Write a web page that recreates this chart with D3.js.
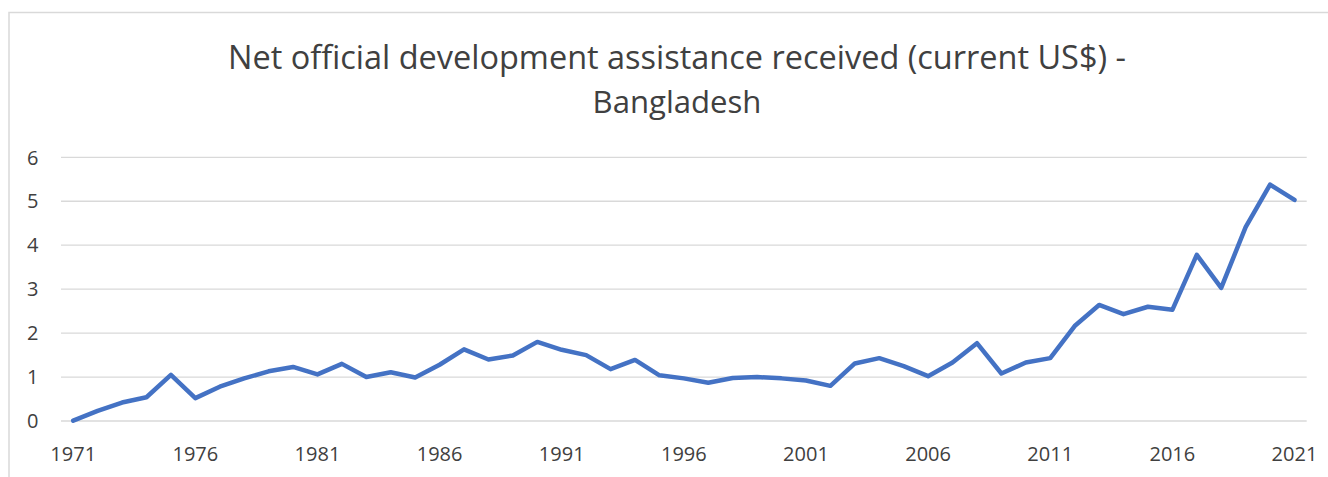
<!DOCTYPE html>
<html>
<head>
<meta charset="utf-8">
<script src="https://cdn.jsdelivr.net/npm/d3@7"></script>
<style>
  html, body { margin: 0; padding: 0; background: #fff; }
  svg { display: block; }
  text { font-family: "Open Sans", "Noto Sans", sans-serif; }
</style>
</head>
<body>
<svg id="chart" width="1328" height="477"></svg>
<script>
const titleLines = ["Net official development assistance received (current US$) -", "Bangladesh"];
const years = [
  1971,1972,1973,1974,1975,1976,1977,1978,1979,1980,
  1981,1982,1983,1984,1985,1986,1987,1988,1989,1990,
  1991,1992,1993,1994,1995,1996,1997,1998,1999,2000,
  2001,2002,2003,2004,2005,2006,2007,2008,2009,2010,
  2011,2012,2013,2014,2015,2016,2017,2018,2019,2020,2021
];
const values = [
  0.01,0.23,0.42,0.54,1.05,0.52,0.78,0.97,1.13,1.23,
  1.06,1.30,1.00,1.11,0.99,1.28,1.63,1.40,1.49,1.80,
  1.62,1.50,1.18,1.39,1.04,0.97,0.87,0.98,1.00,0.97,
  0.92,0.80,1.31,1.43,1.25,1.02,1.33,1.77,1.08,1.33,
  1.43,2.16,2.64,2.43,2.60,2.53,3.78,3.03,4.41,5.38,5.03
];
const xTickLabels = ["1971","1976","1981","1986","1991","1996","2001","2006","2011","2016","2021"];
const yTicks = [0,1,2,3,4,5,6];

const svg = d3.select("#chart");

// chart frame (cropped at right/bottom)
svg.append("path")
  .attr("d", "M9,477 L9,12.5 L1328,12.5")
  .attr("fill", "none")
  .attr("stroke", "#d9d9d9")
  .attr("stroke-width", 1.5);

const x = d3.scaleBand().domain(years.map(String)).range([61, 1306.7]);
const y = d3.scaleLinear().domain([0, 6]).range([421, 157.3]);
const cx = d => x(String(d)) + x.bandwidth() / 2;

// gridlines
svg.append("g").selectAll("line").data(yTicks).join("line")
  .attr("x1", 61).attr("x2", 1306.7)
  .attr("y1", d => y(d)).attr("y2", d => y(d))
  .attr("stroke", "#d9d9d9").attr("stroke-width", 1.3);

// y labels
svg.append("g").selectAll("text").data(yTicks).join("text")
  .attr("x", 38.5).attr("y", d => y(d))
  .attr("dy", "0.36em")
  .attr("text-anchor", "end")
  .attr("font-size", 20)
  .attr("fill", "#404040")
  .text(d => d);

// x labels
svg.append("g").selectAll("text").data(xTickLabels).join("text")
  .attr("x", d => cx(+d)).attr("y", 461)
  .attr("text-anchor", "middle")
  .attr("font-size", 20)
  .attr("fill", "#404040")
  .text(d => d);

// line
const line = d3.line().x((d, i) => cx(years[i])).y(d => y(d));
svg.append("path")
  .datum(values)
  .attr("d", line)
  .attr("fill", "none")
  .attr("stroke", "#4472C4")
  .attr("stroke-width", 4.5)
  .attr("stroke-linejoin", "round")
  .attr("stroke-linecap", "round");

// title
const targets = [{w: 898, yb: 68.5}, {w: 169, yb: 112.5}];
titleLines.forEach((t, i) => {
  const el = svg.append("text")
    .attr("x", 677).attr("y", targets[i].yb)
    .attr("text-anchor", "middle")
    .attr("font-size", 30)
    .attr("fill", "#404040")
    .text(t);
  const len = el.node().getComputedTextLength();
  if (len > 0) el.attr("font-size", 30 * targets[i].w / len);
});
</script>
</body>
</html>
